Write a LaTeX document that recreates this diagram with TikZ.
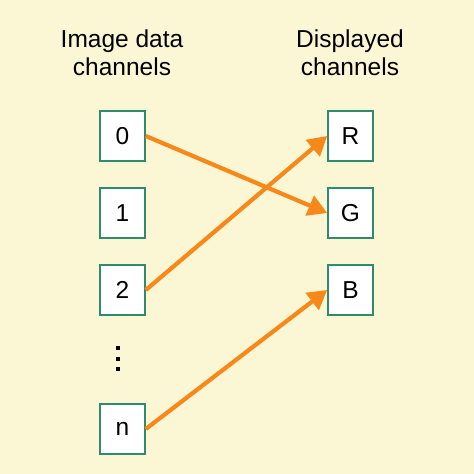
\documentclass[tikz,border=0pt]{standalone}
\usepackage{fontspec}
\setmainfont{Liberation Sans}
\usetikzlibrary{arrows.meta}
\definecolor{bg}{HTML}{FBF7D5}
\definecolor{boxc}{HTML}{2E8B6E}
\definecolor{arr}{HTML}{F8881A}
\begin{document}
\begin{tikzpicture}[x=1pt,y=-1pt,
  chan/.style={draw=boxc,line width=1.6pt,fill=white,minimum width=45pt,minimum height=50pt,inner sep=0pt,font=\fontsize{24.5}{24.5}\selectfont},
  head/.style={align=center,font=\fontsize{24.5}{28}\selectfont},
  link/.style={draw=arr,line width=4.2pt,-{Triangle[length=19pt,width=21pt]}},
  dot/.style={fill=black,minimum size=4pt,inner sep=0pt}]
\fill[bg] (0,0) rectangle (474,474);
\useasboundingbox (0,0) rectangle (474,474);
\node[head] (h1) at (122,53) {Image data\\channels};
\node[head] (h2) at (350,53) {Displayed\\channels};
\node[chan] (c0) at (122.5,136) {0};
\node[chan] (c1) at (122.5,213) {1};
\node[chan] (c2) at (122.5,290) {2};
\node[dot] (d1) at (118,348) {};
\node[dot] (d2) at (118,358.5) {};
\node[dot] (d3) at (118,369) {};
\node[chan] (cn) at (122.5,429) {n};
\node[chan] (r) at (350.5,136) {R};
\node[chan] (g) at (350.5,213) {G};
\node[chan] (b) at (350.5,290) {B};
\draw[link] (c0.east) -- (g.west);
\draw[link] (c2.east) -- (r.west);
\draw[link] (cn.east) -- (b.west);
\end{tikzpicture}
\end{document}
